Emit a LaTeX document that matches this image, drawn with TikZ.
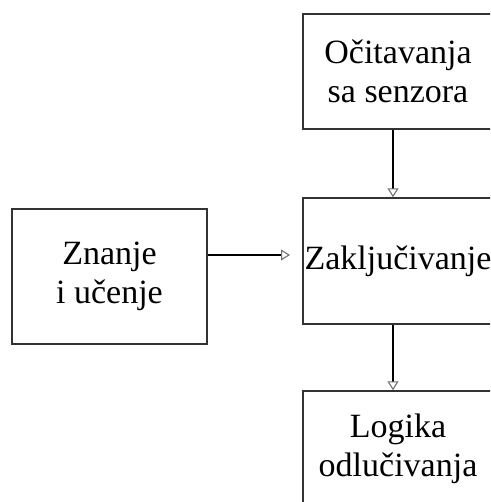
\documentclass[tikz,border=0pt]{standalone}
\usepackage{fontspec}
\setmainfont{Liberation Serif}
\usetikzlibrary{arrows.meta}
\tikzset{
  blok/.style={draw=black!80, line width=1.4pt, rectangle, align=center, inner sep=0pt,
    font=\fontsize{34}{39}\selectfont, text=black},
  strelica/.style={line width=2.8pt, black,
    -{Triangle[open, length=9pt, width=11pt, line width=1.1pt, color=black!55]}, shorten >=0pt}
}
\begin{document}
\begin{tikzpicture}[x=1pt,y=-1pt]
\useasboundingbox (0,0) rectangle (490,502);
\clip (0,0) rectangle (490,502);
\node[blok, minimum width=190pt, minimum height=115pt] (sen) at (398,71.5) {Očitavanja\\ sa senzora};
\node[blok, minimum width=190pt, minimum height=126pt] (zak) at (398,261) {Zaključivanje};
\node[blok, minimum width=190pt, minimum height=115pt] (log) at (398,448.5) {Logika\\odlučivanja};
\node[blok, minimum width=195pt, minimum height=135pt] (zna) at (109.5,276.5) {Znanje\\i učenje};
\coordinate (ulaz) at (290,255);
\draw[strelica] (sen.south -| 393,0) -- (zak.north -| 393,0);
\draw[strelica] (zak.south -| 393,0) -- (log.north -| 393,0);
\draw[strelica] (zna.east |- ulaz) -- (ulaz);
\end{tikzpicture}
\end{document}
